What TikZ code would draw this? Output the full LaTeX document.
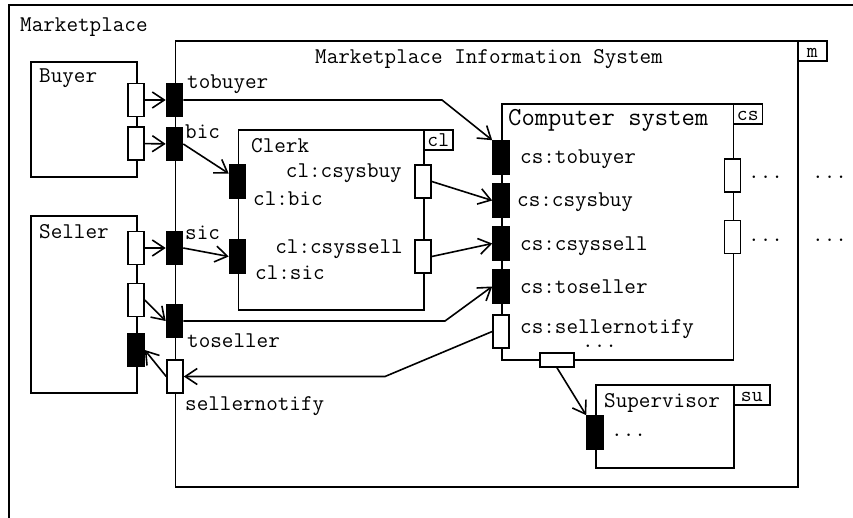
\documentclass[tikz,border=0pt]{standalone}
\usepackage{fontspec}
\usetikzlibrary{arrows.meta,calc}
\begin{document}
\begin{tikzpicture}[x=1pt,y=-1pt,
  box/.style={draw,line width=1.6pt,inner sep=0pt,anchor=north west},
  wport/.style={draw,fill=white,line width=1.6pt,minimum width=16pt,minimum height=33pt,inner sep=0pt},
  bport/.style={draw,fill=black,line width=1.6pt,minimum width=16pt,minimum height=33pt,inner sep=0pt},
  lbl/.style={font=\ttfamily\fontsize{22.5}{23}\selectfont,inner sep=0pt,anchor=base west},
  bigl/.style={font=\ttfamily\fontsize{25.9}{26}\selectfont,inner sep=0pt,anchor=base west},
  tab/.style={draw,fill=white,line width=1.6pt,inner sep=0pt,anchor=north west,minimum height=20pt,
    text height=16.5pt,text depth=3.5pt,font=\ttfamily\fontsize{21}{21}\selectfont},
  conn/.style={line width=1.6pt,-{Straight Barb[length=12pt,width=16pt]}},
]
\useasboundingbox (0,0) rectangle (853,517);
\fill[white] (0,0) rectangle (853,517);
\begin{scope}
  \clip (0,0) rectangle (853,517);
  \draw[line width=2.2pt] (9,540) -- (9,5) -- (880,5);
\end{scope}
\node[lbl] (mplabel) at (20,31) {Marketplace};

% boxes
\node[box,minimum width=622.5pt,minimum height=446pt] (mis) at (174.5,40) {};
\node[tab,minimum width=29pt] (mtab) at (797,40) {m};
\node[lbl] (mistitle) at (315,63) {Marketplace Information System};

\node[box,minimum width=106pt,minimum height=115pt] (buyer) at (30,61) {};
\node[lbl] (buyerl) at (39,82) {Buyer};
\node[box,minimum width=106pt,minimum height=177pt] (seller) at (30,215) {};
\node[lbl] (sellerl) at (39,238) {Seller};

\node[box,minimum width=185.5pt,minimum height=180pt] (clerk) at (237.5,129) {};
\node[tab,minimum width=29pt] (cltab) at (423,129) {cl};
\node[lbl] (clerkl) at (251,152) {Clerk};

\node[box,minimum width=231.5pt,minimum height=256pt] (cs) at (501,103) {};
\node[tab,minimum width=29pt] (cstab) at (732.5,103) {cs};
\node[bigl] (csl) at (508,125) {Computer system};

\node[box,minimum width=138pt,minimum height=83pt] (sup) at (595,384) {};
\node[tab,minimum width=36pt] (sutab) at (733,384) {su};
\node[lbl] (supl) at (604,407) {Supervisor};

% ports
\node[wport] (b1) at (136,100) {};
\node[wport] (b2) at (136,143.5) {};
\node[wport] (s1) at (136,248) {};
\node[wport] (s2) at (136,300) {};
\node[bport] (s3) at (136,350) {};

\node[bport] (tobuyer) at (174.5,100) {};
\node[bport] (bic) at (174.5,144) {};
\node[bport] (sic) at (174.5,248) {};
\node[bport] (toseller) at (174.5,321) {};
\node[wport] (sellernotify) at (175,376.5) {};

\node[bport] (clbic) at (237.5,181.5) {};
\node[bport] (clsic) at (237.5,256.5) {};
\node[wport] (clcsysbuy) at (423,181.5) {};
\node[wport] (clcsyssell) at (423,256.5) {};

\node[bport] (cstobuyer) at (501,157.5) {};
\node[bport] (cscsysbuy) at (501,200.5) {};
\node[bport] (cscsyssell) at (501,243.5) {};
\node[bport] (cstoseller) at (501,286.5) {};
\node[wport] (cssellernotify) at (501,331.5) {};
\node[wport] (csr1) at (732.5,175.5) {};
\node[wport] (csr2) at (732.5,237) {};
\node[wport,minimum width=34pt,minimum height=14pt] (csbot) at (557,360) {};

\node[bport] (support) at (595,432.5) {};

% labels
\node[lbl] (ltobuyer) at (187,88) {tobuyer};
\node[lbl] (lbic) at (185,138) {bic};
\node[lbl] (lsic) at (185,239) {sic};
\node[lbl] (ltoseller) at (187,347) {toseller};
\node[lbl] (lsellernotify) at (185,410) {sellernotify};

\node[lbl,anchor=base east] (lclcsysbuy) at (402,177) {cl:csysbuy};
\node[lbl] (lclbic) at (253,205) {cl:bic};
\node[lbl,anchor=base east] (lclcsyssell) at (403,253) {cl:csyssell};
\node[lbl] (lclsic) at (255,279) {cl:sic};

\node[lbl] (lcstobuyer) at (520,163) {cs:tobuyer};
\node[lbl] (lcscsysbuy) at (517,206) {cs:csysbuy};
\node[lbl] (lcscsyssell) at (520,250) {cs:csyssell};
\node[lbl] (lcstoseller) at (520,293) {cs:toseller};
\node[lbl] (lcssellernotify) at (520,333) {cs:sellernotify};
\node[lbl] (csdots) at (582,347) {...};
\node[lbl] (r1dots) at (748,178) {...};
\node[lbl] (r2dots) at (748,241.5) {...};
\node[lbl] (o1dots) at (812,178) {...};
\node[lbl] (o2dots) at (812,241.5) {...};
\node[lbl] (supdots) at (611,436.5) {...};

% connectors
\coordinate (tbbend) at (442,100);
\coordinate (tsbend) at (445,321);
\coordinate (snbend) at (385,376.5);

\draw[conn] (b1) -- (tobuyer);
\draw[conn] (b2) -- (bic);
\draw[conn] (s1) -- (sic);
\draw[conn] (s2.east) -- (toseller.west);
\draw[conn] (sellernotify.west) -- (s3.east);
\draw[conn] (tobuyer.east) -- (tbbend) -- (cstobuyer.north west);
\draw[conn] (bic.east) -- ([yshift=8pt]clbic.west);
\draw[conn] (sic.east) -- (clsic.west);
\draw[conn] (toseller.east) -- (tsbend) -- (cstoseller.west);
\draw[conn] (clcsysbuy.east) -- (cscsysbuy.west);
\draw[conn] (clcsyssell.east) -- (cscsyssell.west);
\draw[conn] (cssellernotify.west) -- (snbend) -- (sellernotify.east);
\draw[conn] (csbot.south) -- (support.north west);
\end{tikzpicture}
\end{document}
